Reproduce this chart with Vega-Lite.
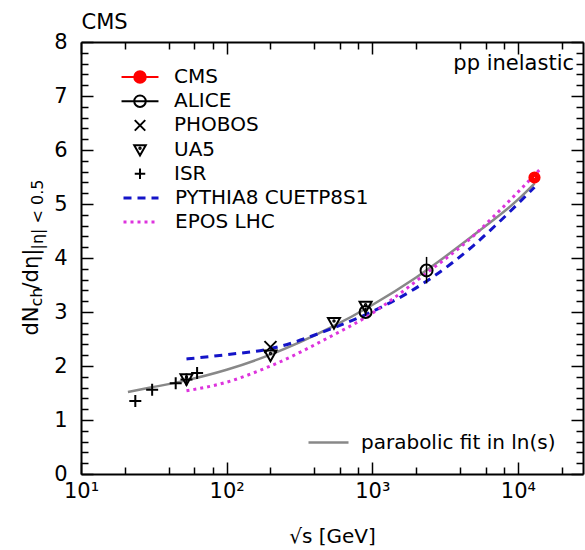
{
  "$schema": "https://vega.github.io/schema/vega-lite/v6.json",
  "width": 502,
  "height": 432,
  "autosize": {"type": "none"},
  "padding": {"left": 81, "top": 42, "right": 2, "bottom": 76},
  "background": "white",
  "config": {
    "font": "DejaVu Sans",
    "view": {"stroke": null},
    "axis": {"grid": false, "domainColor": "black", "domainWidth": 2, "tickColor": "black", "tickWidth": 1.5, "labelColor": "black", "titleColor": "black", "labelFont": "DejaVu Sans", "titleFont": "DejaVu Sans", "titleFontWeight": "normal", "minExtent": 0},
    "legend": {"labelFont": "DejaVu Sans", "labelColor": "black"}
  },
  "datasets": {
    "pts": [
      {"exp": "ISR", "E": 23.6, "y": 1.35},
      {"exp": "ISR", "E": 30.8, "y": 1.56},
      {"exp": "ISR", "E": 44.7, "y": 1.68},
      {"exp": "ISR", "E": 53, "y": 1.75},
      {"exp": "ISR", "E": 62.7, "y": 1.87},
      {"exp": "UA5", "E": 53, "y": 1.76},
      {"exp": "UA5", "E": 200, "y": 2.2},
      {"exp": "UA5", "E": 546, "y": 2.8},
      {"exp": "UA5", "E": 900, "y": 3.1},
      {"exp": "PHOBOS", "E": 200, "y": 2.35},
      {"exp": "ALICE", "E": 900, "y": 3.0, "lo": 2.93, "hi": 3.08},
      {"exp": "ALICE", "E": 2360, "y": 3.77, "lo": 3.53, "hi": 4.02},
      {"exp": "CMS", "E": 13000, "y": 5.49}
    ],
    "curves": [
      {"series": "parabolic fit in ln(s)", "E": 21, "y": 1.52},
      {"series": "parabolic fit in ln(s)", "E": 30, "y": 1.6},
      {"series": "parabolic fit in ln(s)", "E": 50, "y": 1.72},
      {"series": "parabolic fit in ln(s)", "E": 100, "y": 1.93},
      {"series": "parabolic fit in ln(s)", "E": 200, "y": 2.21},
      {"series": "parabolic fit in ln(s)", "E": 500, "y": 2.69},
      {"series": "parabolic fit in ln(s)", "E": 1000, "y": 3.13},
      {"series": "parabolic fit in ln(s)", "E": 2000, "y": 3.64},
      {"series": "parabolic fit in ln(s)", "E": 5000, "y": 4.43},
      {"series": "parabolic fit in ln(s)", "E": 10000, "y": 5.08},
      {"series": "parabolic fit in ln(s)", "E": 13000, "y": 5.38},
      {"series": "PYTHIA8 CUETP8S1", "E": 53, "y": 2.13},
      {"series": "PYTHIA8 CUETP8S1", "E": 100, "y": 2.21},
      {"series": "PYTHIA8 CUETP8S1", "E": 200, "y": 2.32},
      {"series": "PYTHIA8 CUETP8S1", "E": 546, "y": 2.71},
      {"series": "PYTHIA8 CUETP8S1", "E": 900, "y": 2.95},
      {"series": "PYTHIA8 CUETP8S1", "E": 2360, "y": 3.57},
      {"series": "PYTHIA8 CUETP8S1", "E": 5000, "y": 4.24},
      {"series": "PYTHIA8 CUETP8S1", "E": 7000, "y": 4.6},
      {"series": "PYTHIA8 CUETP8S1", "E": 13000, "y": 5.31},
      {"series": "EPOS LHC", "E": 53, "y": 1.54},
      {"series": "EPOS LHC", "E": 100, "y": 1.7},
      {"series": "EPOS LHC", "E": 200, "y": 2.0},
      {"series": "EPOS LHC", "E": 546, "y": 2.58},
      {"series": "EPOS LHC", "E": 900, "y": 2.9},
      {"series": "EPOS LHC", "E": 2360, "y": 3.72},
      {"series": "EPOS LHC", "E": 5000, "y": 4.42},
      {"series": "EPOS LHC", "E": 7000, "y": 4.8},
      {"series": "EPOS LHC", "E": 14400, "y": 5.66}
    ]
  },
  "layer": [
    {
      "data": {"name": "curves"},
      "transform": [{"filter": "datum.series === 'parabolic fit in ln(s)'"}],
      "mark": {"type": "line", "strokeWidth": 2.5, "interpolate": "monotone"},
      "encoding": {
        "x": {"field": "E", "type": "quantitative", "scale": {"type": "log", "domain": [10, 28000], "nice": false},
          "axis": {"orient": "bottom", "values": [10, 100, 1000, 10000],
            "labelExpr": "datum.value == 10 ? '10¹' : datum.value == 100 ? '10²' : datum.value == 1000 ? '10³' : datum.value == 10000 ? '10⁴' : ''",
            "ticks": false, "domain": true, "labelFontSize": 21, "labelPadding": 6, "labelFlush": false, "labelOverlap": false,
            "title": "√s [GeV]", "titleFontSize": 20, "titleY": 68, "titleBaseline": "alphabetic"}},
        "y": {"field": "y", "type": "quantitative", "scale": {"domain": [0, 8], "nice": false, "zero": false},
          "axis": {"orient": "left", "values": [0, 1, 2, 3, 4, 5, 6, 7, 8], "ticks": false, "domain": true,
            "labelFontSize": 21, "labelPadding": 14, "labelOverlap": false, "labelFlush": false,
            "title": "dN", "titleFontSize": 21, "titleAngle": 270, "titleAlign": "left", "titleBaseline": "alphabetic", "titleX": -44, "titleY": 293}},
        "color": {"field": "series", "type": "nominal", "scale": {"domain": ["parabolic fit in ln(s)"], "range": ["#888888"]},
          "legend": {"orient": "none", "legendX": 236, "legendY": 389, "title": null, "symbolType": "M-2,0L2,0", "symbolSize": 400, "symbolStrokeWidth": 2.5, "symbolOpacity": 1, "labelFontSize": 20, "labelOffset": 21, "padding": 0, "labelLimit": 400}}
      }
    },
    {
      "data": {"name": "curves"},
      "transform": [{"filter": "datum.series !== 'parabolic fit in ln(s)'"}],
      "mark": {"type": "line", "strokeWidth": 3, "interpolate": "monotone"},
      "encoding": {
        "x": {"field": "E", "type": "quantitative", "scale": {"type": "log", "domain": [10, 28000], "nice": false},
          "axis": {"orient": "top", "offset": -432, "values": [10, 100, 1000, 10000], "labels": false, "domain": false, "tickSize": 12, "title": null}},
        "y": {"field": "y", "type": "quantitative", "scale": {"domain": [0, 8], "nice": false, "zero": false},
          "axis": {"orient": "right", "offset": -502, "values": [0, 1, 2, 3, 4, 5, 6, 7, 8], "labels": false, "domain": false, "tickSize": 12, "title": null}},
        "color": {"field": "series", "type": "nominal", "scale": {"domain": ["PYTHIA8 CUETP8S1", "EPOS LHC"], "range": ["#1414c8", "#dd33dd"]},
          "legend": {"orient": "none", "legendX": 48.5, "legendY": 144.5, "title": null, "symbolType": "M-1.75,0L1.75,0", "symbolSize": 400, "symbolStrokeWidth": 3, "symbolOpacity": 1, "labelFontSize": 20, "labelOffset": 22.5, "rowPadding": 2, "padding": 0, "labelLimit": 400}},
        "strokeDash": {"field": "series", "type": "nominal", "scale": {"domain": ["PYTHIA8 CUETP8S1", "EPOS LHC"], "range": [[8, 6], [3, 4]]},
          "legend": {"orient": "none", "legendX": 48.5, "legendY": 144.5, "title": null, "symbolType": "M-1.75,0L1.75,0", "symbolSize": 400, "symbolStrokeWidth": 3, "symbolOpacity": 1, "labelFontSize": 20, "labelOffset": 22.5, "rowPadding": 2, "padding": 0, "labelLimit": 400}}
      }
    },
    {
      "data": {"name": "pts"},
      "transform": [{"filter": "isValid(datum.lo)"}],
      "mark": {"type": "rule", "color": "black", "strokeWidth": 1.5},
      "encoding": {
        "x": {"field": "E", "type": "quantitative", "scale": {"type": "log", "domain": [10, 28000], "nice": false},
          "axis": {"orient": "top", "offset": -432, "values": [20, 40, 60, 80, 200, 400, 600, 800, 2000, 4000, 6000, 8000, 20000], "labels": false, "domain": false, "tickSize": 7, "title": null}},
        "y": {"field": "lo", "type": "quantitative", "scale": {"domain": [0, 8], "nice": false, "zero": false},
          "axis": {"orient": "right", "offset": -502, "values": [0.2,0.4,0.6,0.8,1.2,1.4,1.6,1.8,2.2,2.4,2.6,2.8,3.2,3.4,3.6,3.8,4.2,4.4,4.6,4.8,5.2,5.4,5.6,5.8,6.2,6.4,6.6,6.8,7.2,7.4,7.6,7.8], "labels": false, "domain": false, "tickSize": 7, "title": null}},
        "y2": {"field": "hi"}
      }
    },
    {
      "data": {"name": "pts"},
      "transform": [{"filter": "datum.exp === 'ISR'"}],
      "mark": {"type": "point", "filled": false, "strokeWidth": 2, "size": 144, "opacity": 1},
      "encoding": {
        "x": {"field": "E", "type": "quantitative", "scale": {"type": "log", "domain": [10, 28000], "nice": false},
          "axis": {"orient": "bottom", "offset": -432, "values": [10, 100, 1000, 10000], "labels": false, "domain": true, "tickSize": 12,
            "title": "CMS", "titleFontSize": 21, "titleAngle": 0, "titleAlign": "left", "titleBaseline": "alphabetic", "titleX": 0, "titleY": -14}},
        "y": {"field": "y", "type": "quantitative", "scale": {"domain": [0, 8], "nice": false, "zero": false},
          "axis": {"orient": "left", "offset": -502, "values": [0, 1, 2, 3, 4, 5, 6, 7, 8], "labels": false, "domain": true, "tickSize": 12, "title": null}},
        "shape": {"field": "exp", "type": "nominal", "scale": {"domain": ["CMS", "ALICE", "PHOBOS", "UA5", "ISR"],
          "range": [
            "M0.85,0A0.85,0.85,0,1,1,-0.85,0A0.85,0.85,0,1,1,0.85,0M0.55,0A0.55,0.55,0,1,1,-0.55,0A0.55,0.55,0,1,1,0.55,0M0.25,0A0.25,0.25,0,1,1,-0.25,0A0.25,0.25,0,1,1,0.25,0",
            "circle",
            "M-1,-1L1,1M-1,1L1,-1",
            "M-1,-0.8L1,-0.8L0,1ZM0.12,-0.3A0.12,0.12,0,1,1,-0.12,-0.3A0.12,0.12,0,1,1,0.12,-0.3",
            "M-1,0L1,0M0,-1L0,1"
          ]}, "legend": null},
        "color": {"field": "exp", "type": "nominal", "scale": {"domain": ["CMS", "ALICE", "PHOBOS", "UA5", "ISR"], "range": ["#ff0000", "black", "black", "black", "black"]}, "legend": null}
      }
    },
    {
      "data": {"name": "pts"},
      "transform": [{"filter": "datum.exp === 'UA5'"}],
      "mark": {"type": "point", "filled": false, "strokeWidth": 2, "size": 144, "opacity": 1},
      "encoding": {
        "x": {"field": "E", "type": "quantitative", "scale": {"type": "log", "domain": [10, 28000], "nice": false},
          "axis": {"orient": "bottom", "offset": -432, "values": [20, 40, 60, 80, 200, 400, 600, 800, 2000, 4000, 6000, 8000, 20000], "labels": false, "domain": false, "tickSize": 7, "title": null}},
        "y": {"field": "y", "type": "quantitative", "scale": {"domain": [0, 8], "nice": false, "zero": false},
          "axis": {"orient": "left", "offset": -502, "values": [0.2,0.4,0.6,0.8,1.2,1.4,1.6,1.8,2.2,2.4,2.6,2.8,3.2,3.4,3.6,3.8,4.2,4.4,4.6,4.8,5.2,5.4,5.6,5.8,6.2,6.4,6.6,6.8,7.2,7.4,7.6,7.8], "labels": false, "domain": false, "tickSize": 7, "title": null}},
        "shape": {"field": "exp", "type": "nominal", "scale": {"domain": ["CMS", "ALICE", "PHOBOS", "UA5", "ISR"],
          "range": [
            "M0.85,0A0.85,0.85,0,1,1,-0.85,0A0.85,0.85,0,1,1,0.85,0M0.55,0A0.55,0.55,0,1,1,-0.55,0A0.55,0.55,0,1,1,0.55,0M0.25,0A0.25,0.25,0,1,1,-0.25,0A0.25,0.25,0,1,1,0.25,0",
            "circle",
            "M-1,-1L1,1M-1,1L1,-1",
            "M-1,-0.8L1,-0.8L0,1ZM0.12,-0.3A0.12,0.12,0,1,1,-0.12,-0.3A0.12,0.12,0,1,1,0.12,-0.3",
            "M-1,0L1,0M0,-1L0,1"
          ]}, "legend": null},
        "color": {"field": "exp", "type": "nominal", "scale": {"domain": ["CMS", "ALICE", "PHOBOS", "UA5", "ISR"], "range": ["#ff0000", "black", "black", "black", "black"]}, "legend": null}
      }
    },
    {
      "data": {"name": "pts"},
      "transform": [{"filter": "datum.exp !== 'UA5' && datum.exp !== 'ISR'"}],
      "mark": {"type": "point", "filled": false, "strokeWidth": 2, "size": 144, "opacity": 1},
      "encoding": {
        "x": {"field": "E", "type": "quantitative", "scale": {"type": "log", "domain": [10, 28000], "nice": false}, "axis": null},
        "y": {"field": "y", "type": "quantitative", "scale": {"domain": [0, 8], "nice": false, "zero": false},
          "axis": {"orient": "left", "labels": false, "ticks": false, "domain": false, "title": "ch", "titleFontSize": 16, "titleAngle": 270, "titleAlign": "left", "titleBaseline": "alphabetic", "titleX": -40, "titleY": 264}},
        "shape": {"field": "exp", "type": "nominal", "scale": {"domain": ["CMS", "ALICE", "PHOBOS", "UA5", "ISR"],
          "range": [
            "M0.85,0A0.85,0.85,0,1,1,-0.85,0A0.85,0.85,0,1,1,0.85,0M0.55,0A0.55,0.55,0,1,1,-0.55,0A0.55,0.55,0,1,1,0.55,0M0.25,0A0.25,0.25,0,1,1,-0.25,0A0.25,0.25,0,1,1,0.25,0",
            "circle",
            "M-1,-1L1,1M-1,1L1,-1",
            "M-1,-0.8L1,-0.8L0,1ZM0.12,-0.3A0.12,0.12,0,1,1,-0.12,-0.3A0.12,0.12,0,1,1,0.12,-0.3",
            "M-1,0L1,0M0,-1L0,1"
          ]}, "legend": null},
        "color": {"field": "exp", "type": "nominal", "scale": {"domain": ["CMS", "ALICE", "PHOBOS", "UA5", "ISR"], "range": ["#ff0000", "black", "black", "black", "black"]}, "legend": null}
      }
    },
    {
      "data": {"name": "pts"},
      "mark": {"type": "point", "filled": false, "strokeWidth": 2, "size": 441, "opacity": 0},
      "encoding": {
        "x": {"field": "E", "type": "quantitative", "scale": {"type": "log", "domain": [10, 28000], "nice": false}, "axis": null},
        "y": {"field": "y", "type": "quantitative", "scale": {"domain": [0, 8], "nice": false, "zero": false},
          "axis": {"orient": "left", "labels": false, "ticks": false, "domain": false, "title": "/dη|", "titleFontSize": 21, "titleAngle": 270, "titleAlign": "left", "titleBaseline": "alphabetic", "titleX": -44, "titleY": 247}},
        "shape": {"field": "exp", "type": "nominal", "scale": {"domain": ["CMS", "ALICE", "PHOBOS", "UA5", "ISR"],
          "range": [
            "M-1.76,0L1.76,0M0.55,0A0.55,0.55,0,1,1,-0.55,0A0.55,0.55,0,1,1,0.55,0M0.36,0A0.36,0.36,0,1,1,-0.36,0A0.36,0.36,0,1,1,0.36,0M0.17,0A0.17,0.17,0,1,1,-0.17,0A0.17,0.17,0,1,1,0.17,0M0.05,0A0.05,0.05,0,1,1,-0.05,0A0.05,0.05,0,1,1,0.05,0",
            "M-1.76,0L1.76,0M0.55,0A0.55,0.55,0,1,1,-0.55,0A0.55,0.55,0,1,1,0.55,0",
            "M-0.5,-0.5L0.5,0.5M-0.5,0.5L0.5,-0.5",
            "M-0.55,-0.42L0.55,-0.42L0,0.55ZM0.07,-0.13A0.07,0.07,0,1,1,-0.07,-0.13A0.07,0.07,0,1,1,0.07,-0.13",
            "M-0.5,0L0.5,0M0,-0.5L0,0.5"
          ]},
          "legend": {"orient": "none", "legendX": 47.5, "legendY": 23.5, "title": null, "symbolSize": 441, "symbolStrokeWidth": 2, "symbolOpacity": 1, "labelFontSize": 20, "labelOffset": 22.5, "rowPadding": 2.2, "padding": 0, "labelLimit": 400}},
        "color": {"field": "exp", "type": "nominal", "scale": {"domain": ["CMS", "ALICE", "PHOBOS", "UA5", "ISR"], "range": ["#ff0000", "black", "black", "black", "black"]},
          "legend": {"orient": "none", "legendX": 47.5, "legendY": 23.5, "title": null, "symbolSize": 441, "symbolStrokeWidth": 2, "symbolOpacity": 1, "labelFontSize": 20, "labelOffset": 22.5, "rowPadding": 2.2, "padding": 0, "labelLimit": 400}}
      }
    },
    {
      "data": {"values": [{}]},
      "mark": {"type": "text", "align": "right", "baseline": "alphabetic", "fontSize": 21, "font": "DejaVu Sans", "color": "black"},
      "encoding": {
        "x": {"datum": 24300, "type": "quantitative", "scale": {"type": "log", "domain": [10, 28000], "nice": false}, "axis": null},
        "y": {"datum": 7.48, "type": "quantitative", "scale": {"domain": [0, 8], "nice": false, "zero": false},
          "axis": {"orient": "left", "labels": false, "ticks": false, "domain": false, "title": "|η| < 0.5", "titleFontSize": 16, "titleAngle": 270, "titleAlign": "left", "titleBaseline": "alphabetic", "titleX": -39, "titleY": 207}},
        "text": {"value": "pp inelastic"}
      }
    }
  ],
  "resolve": {
    "scale": {"color": "independent", "shape": "independent", "strokeDash": "independent"},
    "axis": {"x": "independent", "y": "independent"}
  }
}
